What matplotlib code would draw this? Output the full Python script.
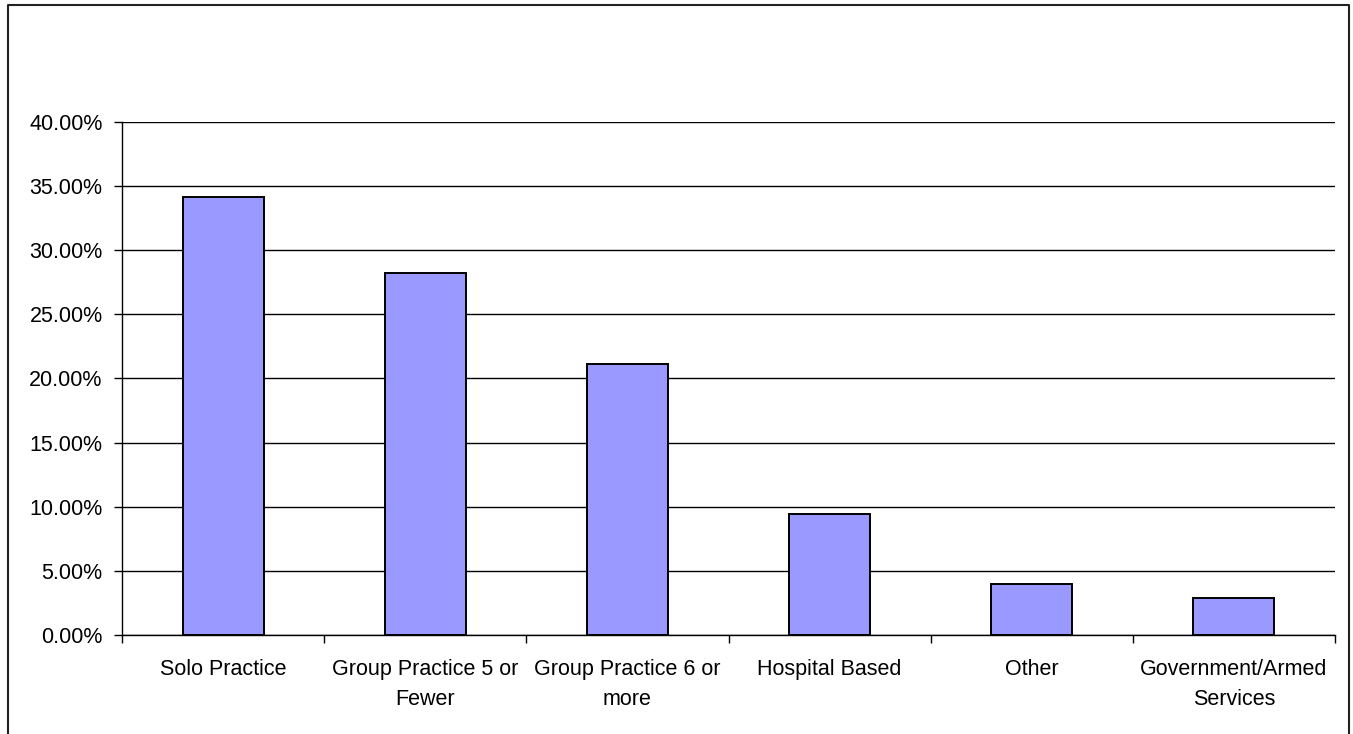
import matplotlib.pyplot as plt
from matplotlib.lines import Line2D
from matplotlib.ticker import FuncFormatter, FixedLocator

plt.rcParams['font.family'] = ['Liberation Sans', 'DejaVu Sans']

# practice setting shares (fraction of respondents)
categories = ["Solo Practice", "Group Practice 5 or\nFewer", "Group Practice 6 or\nmore",
              "Hospital Based", "Other", "Government/Armed\nServices"]
shares = [0.3415, 0.2823, 0.2113, 0.0941, 0.0400, 0.0289]
y_ticks = [0.0, 0.05, 0.10, 0.15, 0.20, 0.25, 0.30, 0.35, 0.40]

W, H = 1353, 734
fig = plt.figure(figsize=(W / 100, H / 100), dpi=100)
ax = fig.add_axes([122 / W, 1 - 635 / H, (1335 - 122) / W, (635 - 122) / H])

x = list(range(len(categories)))
ax.bar(x, shares, width=0.4, color="#9999FF", edgecolor="black", linewidth=1.4, zorder=3)

ax.set_xlim(-0.5, len(categories) - 0.5)
ax.set_ylim(0, 0.40)
ax.set_yticks(y_ticks)
ax.yaxis.set_major_formatter(FuncFormatter(lambda v, p: "%.2f%%" % (v * 100)))
ax.grid(axis="y", color="black", linewidth=1.0, zorder=0)

# category labels centred, tick marks between categories
ax.xaxis.set_major_locator(FixedLocator([i + 0.5 for i in range(-1, len(categories))]))
ax.xaxis.set_minor_locator(FixedLocator(x))
ax.set_xticklabels([])
ax.set_xticklabels(categories, minor=True)
ax.tick_params(axis="x", which="major", length=6, width=1, color="black", direction="out")
ax.tick_params(axis="x", which="minor", length=0, pad=17.5, labelsize=15.5)
ax.tick_params(axis="y", length=6, width=1, direction="out", pad=8, labelsize=15.5)
for lbl in ax.get_xticklabels(minor=True):
    lbl.set_linespacing(1.55)

for s in ["top", "right"]:
    ax.spines[s].set_visible(False)
for s in ["left", "bottom"]:
    ax.spines[s].set_color("black")
    ax.spines[s].set_linewidth(1.0)

# chart area frame (open at the bottom)
fx = [8 / W, 8 / W, 1349 / W, 1349 / W]
fy = [-0.01, 1 - 5 / H, 1 - 5 / H, -0.01]
fig.add_artist(Line2D(fx, fy, transform=fig.transFigure, color="#222222", linewidth=1.5))

fig.savefig("out.png", dpi=100)
